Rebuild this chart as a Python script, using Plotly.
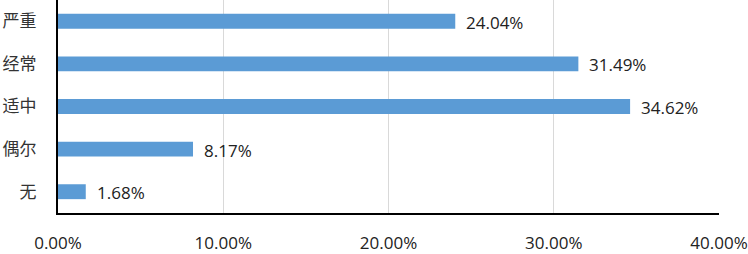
import plotly.graph_objects as go

categories = ["严重", "经常", "适中", "偶尔", "无"]
values = [24.04, 31.49, 34.62, 8.17, 1.68]
tick_vals = [0, 10, 20, 30, 40]
tick_text = ["0.00%", "10.00%", "20.00%", "30.00%", "40.00%"]

font_family = "Open Sans, Noto Sans CJK SC, sans-serif"
text_color = "#222222"

fig = go.Figure()
fig.add_trace(go.Bar(
    y=categories, x=values, orientation="h",
    marker=dict(color="#5B9BD5", line=dict(width=0)),
    width=0.35,
))

for c, v in zip(categories, values):
    fig.add_annotation(x=v, y=c, text=f"{v:.2f}%", showarrow=False,
                       xanchor="left", xshift=9, yshift=-1,
                       font=dict(size=17, color=text_color, family=font_family))

fig.update_layout(
    width=748, height=254,
    margin=dict(l=58, r=29, t=0, b=41),
    paper_bgcolor="white", plot_bgcolor="white",
    showlegend=False,
    font=dict(family=font_family, size=17, color=text_color),
)
fig.update_xaxes(
    range=[0, 40], tickvals=tick_vals, ticktext=tick_text,
    showgrid=True, gridcolor="#D9D9D9", gridwidth=1,
    showline=True, linecolor="black", linewidth=2,
    ticks="", ticklabelstandoff=14, zeroline=False, automargin=False,
    tickfont=dict(size=17, color=text_color, family=font_family),
)
fig.update_yaxes(
    categoryorder="array", categoryarray=categories, autorange="reversed",
    showline=True, linecolor="black", linewidth=2,
    ticks="", ticklabelstandoff=16, showgrid=False, automargin=False,
    tickfont=dict(size=17, color="#333333", family="Noto Sans CJK SC, sans-serif"),
)

fig.write_html("out.html", config={"displayModeBar": False},
               post_script="document.body.style.margin='0';document.body.style.overflow='hidden';")
